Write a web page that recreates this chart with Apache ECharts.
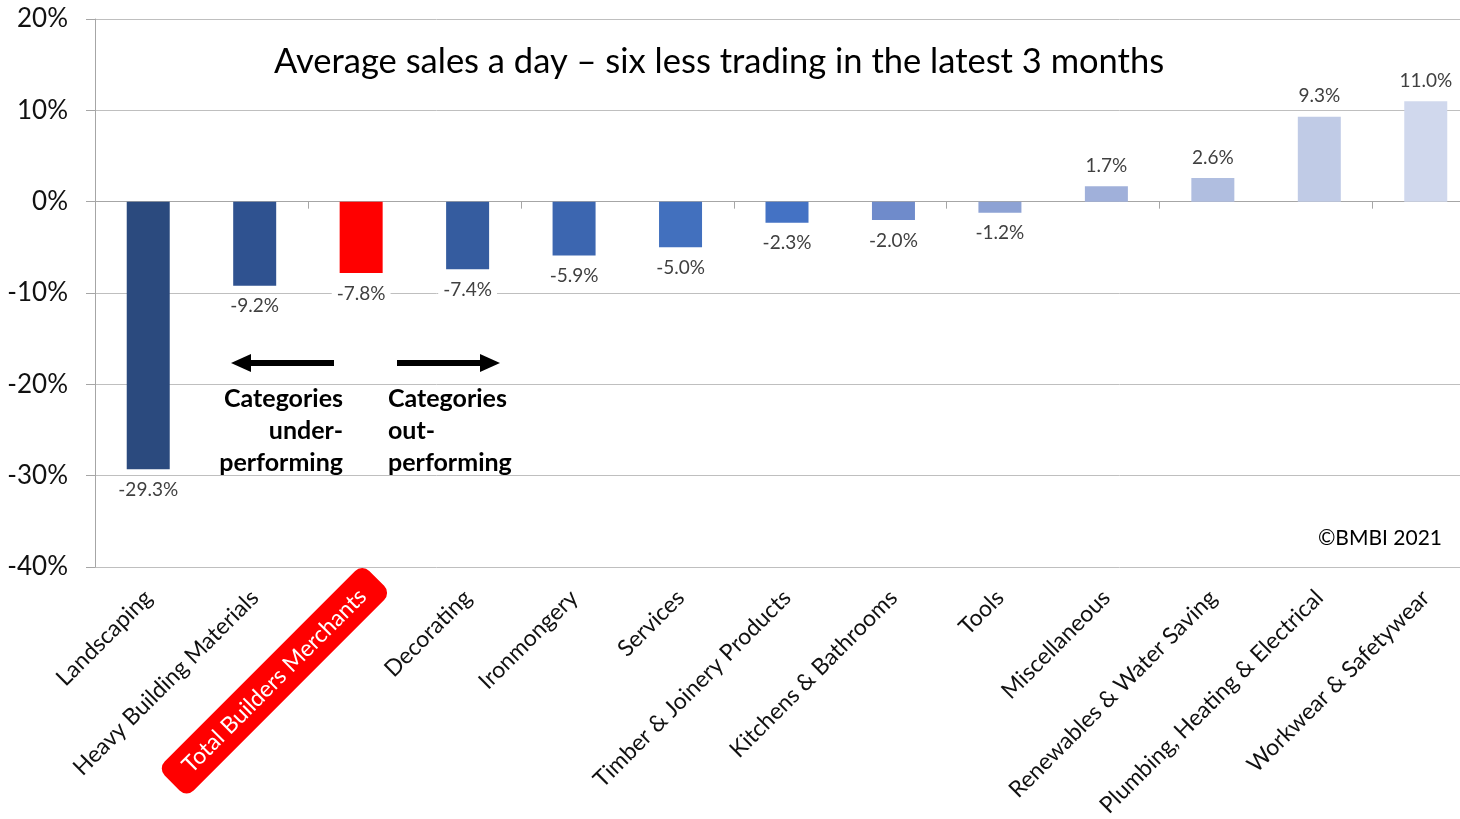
<!DOCTYPE html>
<html>
<head>
<meta charset="utf-8">
<title>Average sales a day</title>
<script src="https://cdn.jsdelivr.net/npm/echarts@6/dist/echarts.min.js"></script>
<style>
    html, body { margin: 0; padding: 0; background: #fff; }
    #main { width: 1460px; height: 819px; }
</style>
</head>
<body>
<div id="main"></div>
<script>
// categories, left to right
var categories = [
    'Landscaping', 'Heavy Building Materials', 'Total Builders Merchants', 'Decorating',
    'Ironmongery', 'Services', 'Timber & Joinery Products', 'Kitchens & Bathrooms', 'Tools',
    'Miscellaneous', 'Renewables & Water Saving', 'Plumbing, Heating & Electrical',
    'Workwear & Safetywear'
];
// % change, average sales a day
var changes = [-29.3, -9.2, -7.8, -7.4, -5.9, -5.0, -2.3, -2.0, -1.2, 1.7, 2.6, 9.3, 11.0];
var yTicks = [-40, -30, -20, -10, 0, 10, 20];
var highlight = 'Total Builders Merchants';

// bar colours (dark to light)
var barColors = [
    '#2B4A7E', '#2F5290', '#FF0000', '#355C9F', '#3C66B0', '#4270BE', '#4472C4',
    '#6F8BCB', '#8DA2D4', '#A0B0DA', '#B0BEE0', '#C0CBE6', '#D0D8ED'
];

var font = 'Lato, "Open Sans", sans-serif';
var labelSize = 23;
var hlPad = 20;

// 量一下红色标签的宽度，用来把它往轴线方向挪一点
var ctx = document.createElement('canvas').getContext('2d');
ctx.font = labelSize + 'px ' + font;
var hlWidth = ctx.measureText(highlight).width + hlPad * 2;
var hlShift = 22;

var seriesData = [];
for (var i = 0; i < changes.length; i++) {
    seriesData.push({
        value: changes[i],
        itemStyle: {color: barColors[i]}
    });
}

var labelCats = categories.map(function (c) {
    return c === highlight ? {value: c, textStyle: {align: 'center'}} : c;
});

var myChart = echarts.init(document.getElementById('main'));
var option = {
    animation: false,
    textStyle: {fontFamily: font},
    grid: {left: 95, top: 19, width: 1384, height: 548, containLabel: false, outerBoundsMode: 'none'},
    xAxis: [{
        type: 'category',
        data: categories,
        axisLine: {onZero: true, lineStyle: {color: '#a6a6a6', width: 1}},
        axisTick: {show: true, length: 7, lineStyle: {color: '#a6a6a6'}},
        axisLabel: {show: false},
        splitLine: {show: false}
    }, {
        type: 'category',
        data: labelCats,
        position: 'bottom',
        axisLine: {show: false, onZero: false},
        axisTick: {show: false},
        axisLabel: {
            rotate: 45,
            margin: 27,
            fontSize: labelSize,
            color: '#111',
            fontFamily: font,
            formatter: function (v) {
                return v === highlight ? '{hl|' + v + '}{sp| }' : v;
            },
            rich: {
                hl: {
                    color: '#fff',
                    fontSize: labelSize,
                    fontFamily: font,
                    backgroundColor: '#FF0000',
                    borderRadius: 10,
                    padding: [9, hlPad]
                },
                sp: {
                    width: hlWidth - hlShift * 2,
                    fontSize: labelSize,
                    color: 'rgba(0,0,0,0)'
                }
            }
        }
    }],
    yAxis: {
        type: 'value',
        min: yTicks[0],
        max: yTicks[yTicks.length - 1],
        interval: 10,
        axisLine: {show: true, lineStyle: {color: '#a6a6a6'}},
        axisTick: {show: true, length: 9, lineStyle: {color: '#a6a6a6'}},
        axisLabel: {
            formatter: '{value}%',
            fontSize: 26,
            color: '#111',
            margin: 27,
            fontFamily: font
        },
        splitLine: {lineStyle: {color: '#bfbfbf', width: 1}}
    },
    series: [{
        type: 'bar',
        xAxisIndex: 0,
        barWidth: 43,
        data: seriesData,
        label: {
            show: true,
            position: 'outside',
            distance: 9,
            fontSize: 19,
            color: '#404040',
            fontFamily: font,
            backgroundColor: '#fff',
            padding: [2, 5],
            formatter: function (p) {
                return p.value.toFixed(1) + '%';
            }
        }
    }],
    graphic: [
        // 标题
        {
            type: 'text', left: 274, top: 44, z: 10,
            style: {
                text: 'Average sales a day \u2013 six less trading in the latest 3 months',
                fontSize: 34.5, fill: '#000', fontFamily: font
            }
        },
        // 左箭头
        {type: 'rect', z: 10, shape: {x: 246, y: 360, width: 88, height: 6}, style: {fill: '#000'}},
        {type: 'polygon', z: 10, shape: {points: [[231, 363], [251, 354], [251, 372]]}, style: {fill: '#000'}},
        // 右箭头
        {type: 'rect', z: 10, shape: {x: 397, y: 360, width: 88, height: 6}, style: {fill: '#000'}},
        {type: 'polygon', z: 10, shape: {points: [[500, 363], [480, 354], [480, 372]]}, style: {fill: '#000'}},
        {
            type: 'text', z: 10, x: 343, y: 383,
            style: {
                text: 'Categories\nunder-\nperforming', align: 'right',
                fontSize: 25, fontWeight: 'bold', lineHeight: 32, fill: '#000', fontFamily: font
            }
        },
        {
            type: 'text', z: 10, x: 388, y: 383,
            style: {
                text: 'Categories\nout-\nperforming', align: 'left',
                fontSize: 25, fontWeight: 'bold', lineHeight: 32, fill: '#000', fontFamily: font
            }
        },
        {
            type: 'text', z: 10, x: 1442, y: 528,
            style: {text: '\u00A9BMBI 2021', align: 'right', fontSize: 21, fill: '#000', fontFamily: font}
        }
    ]
};
myChart.setOption(option);
</script>
</body>
</html>
